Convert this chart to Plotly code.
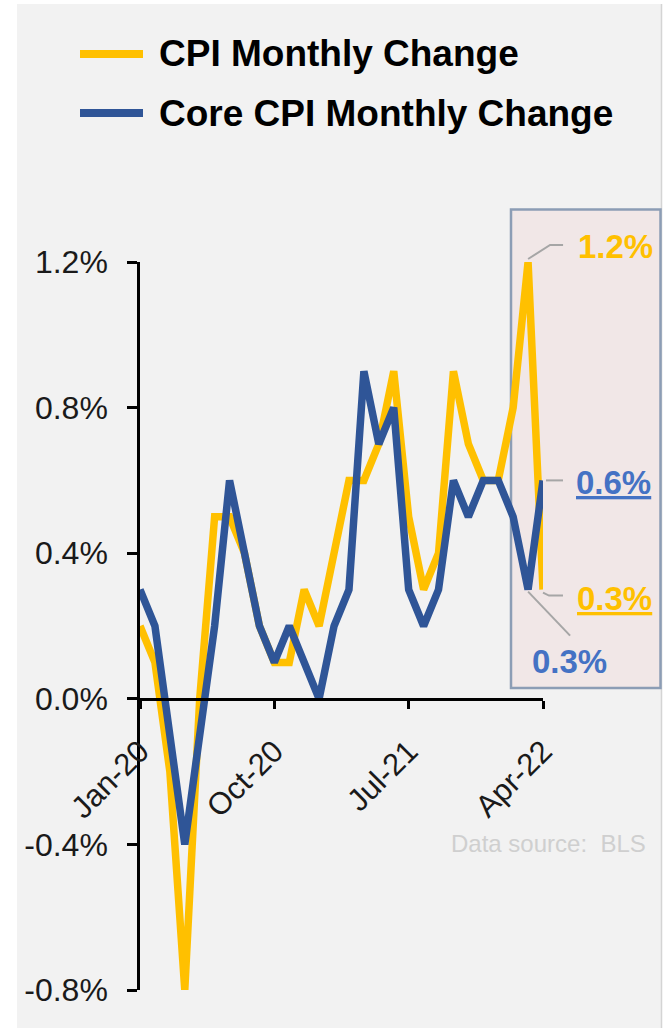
import plotly.graph_objects as go

# ---------------- data ----------------
months = ["Jan-20", "Feb-20", "Mar-20", "Apr-20", "May-20", "Jun-20", "Jul-20",
          "Aug-20", "Sep-20", "Oct-20", "Nov-20", "Dec-20", "Jan-21", "Feb-21",
          "Mar-21", "Apr-21", "May-21", "Jun-21", "Jul-21", "Aug-21", "Sep-21",
          "Oct-21", "Nov-21", "Dec-21", "Jan-22", "Feb-22", "Mar-22", "Apr-22"]
cpi_change = [0.2, 0.1, -0.2, -0.8, 0.0, 0.5, 0.5, 0.4, 0.2, 0.1, 0.1, 0.3, 0.2, 0.4,
              0.6, 0.6, 0.7, 0.9, 0.5, 0.3, 0.4, 0.9, 0.7, 0.6, 0.6, 0.8, 1.2, 0.3]
core_change = [0.3, 0.2, -0.1, -0.4, -0.1, 0.2, 0.6, 0.4, 0.2, 0.1, 0.2, 0.1, 0.0, 0.2,
               0.3, 0.9, 0.7, 0.8, 0.3, 0.2, 0.3, 0.6, 0.5, 0.6, 0.6, 0.5, 0.3, 0.6]
x_tick_labels = ["Jan-20", "Oct-20", "Jul-21", "Apr-22"]
y_tick_values = [-0.8, -0.4, 0.0, 0.4, 0.8, 1.2]
y_tick_labels = ["-0.8%", "-0.4%", "0.0%", "0.4%", "0.8%", "1.2%"]
series_names = ["CPI Monthly Change", "Core CPI Monthly Change"]
source_text = "Data source:\u00a0 BLS"

# ---------------- style ----------------
ORANGE = "#FFC000"
BLUE = "#2F5597"
BLUE_LABEL = "#4472C4"
GREY_LEAD = "#A6A6A6"
FONT = "Liberation Sans, Arial, sans-serif"

W, H = 664, 1028
ML, MR, MT, MB = 140, 121, 262, 38
PW, PH = W - ML - MR, H - MT - MB
YMIN, YMAX = -0.8, 1.2
N = len(months) - 1


def px(x):
    return (x - ML) / PW


def py(y):
    return (H - MB - y) / PH


def xpix(i):  # pixel x of category index on the x scale
    return ML + i * PW / N


def ypix(v):  # pixel y of value on the y scale
    return MT + (YMAX - v) / (YMAX - YMIN) * PH


fig = go.Figure()
fig.add_trace(go.Scatter(x=months, y=cpi_change, mode="lines", name=series_names[0],
                         line=dict(color=ORANGE, width=7.5), hoverinfo="x+y"))
fig.add_trace(go.Scatter(x=months, y=core_change, mode="lines", name=series_names[1],
                         line=dict(color=BLUE, width=7.5), hoverinfo="x+y"))

shapes = []
# page background panel
shapes.append(dict(type="rect", xref="paper", yref="paper", x0=px(17), x1=px(661),
                   y0=py(1032), y1=py(4), fillcolor="#F2F2F2", line=dict(width=0), layer="below"))
shapes.append(dict(type="line", xref="paper", yref="paper", x0=px(661.5), x1=px(661.5),
                   y0=py(1032), y1=py(4), line=dict(color="#D4D4D4", width=1.5), layer="below"))
# highlight box
shapes.append(dict(type="rect", xref="paper", yref="paper", x0=px(511), x1=px(660.5),
                   y0=py(688), y1=py(209.5), fillcolor="#F1E7E7",
                   line=dict(color="#8C9DB5", width=2.5), layer="below"))
# legend lines
for col, yy in [(ORANGE, 54), (BLUE, 113)]:
    shapes.append(dict(type="line", xref="paper", yref="paper", x0=px(80), x1=px(143),
                       y0=py(yy), y1=py(yy), line=dict(color=col, width=8)))


def leader(idx, yval, pts):
    x0, y0 = xpix(idx), ypix(yval)
    path = "M" + " L".join("%.4f,%.4f" % (px(x0 + dx), py(y0 + dy)) for dx, dy in pts)
    return dict(type="path", xref="paper", yref="paper", path=path,
                line=dict(color=GREY_LEAD, width=2))


shapes.append(leader(N - 1, cpi_change[N - 1], [(0, -3), (22, -17), (35, -17)]))
shapes.append(leader(N, core_change[N], [(3, 0), (20, 0)]))
shapes.append(leader(N, cpi_change[N], [(0, 3), (6, 6), (20, 6)]))
shapes.append(leader(N - 1, core_change[N - 1], [(0, 2), (42, 46)]))

annotations = []
# legend text
for name, yy in [(series_names[0], 54), (series_names[1], 113)]:
    annotations.append(dict(xref="paper", yref="paper", x=px(157), y=py(yy),
                            xanchor="left", yanchor="middle", showarrow=False,
                            text="<b>%s</b>" % name,
                            font=dict(family=FONT, size=37, color="#000000")))


def vlabel(idx, yval, color, xs, ys, xanchor="left", underline=False):
    t = "<b>%.1f%%</b>" % yval
    if underline:
        t = "<u>%s</u>" % t
    return dict(x=months[idx], y=yval, xref="x", yref="y", text=t, showarrow=False,
                xanchor=xanchor, yanchor="middle", xshift=xs, yshift=ys,
                font=dict(family=FONT, size=33, color=color))


annotations.append(vlabel(N - 1, cpi_change[N - 1], ORANGE, 48, 16))
annotations.append(vlabel(N, core_change[N], BLUE_LABEL, 31, -2, underline=True))
annotations.append(vlabel(N, cpi_change[N], ORANGE, 32, -9, underline=True))
annotations.append(vlabel(N - 1, core_change[N - 1], BLUE_LABEL, 41, -72, xanchor="center"))
# data source
annotations.append(dict(xref="paper", yref="paper", x=px(648), y=py(843), xanchor="right",
                        yanchor="middle", showarrow=False, text=source_text,
                        font=dict(family=FONT, size=24, color="#CFCFCF")))

fig.update_layout(
    width=W, height=H,
    margin=dict(l=ML, r=MR, t=MT, b=MB, pad=0),
    paper_bgcolor="#FFFFFF", plot_bgcolor="rgba(0,0,0,0)",
    showlegend=False,
    shapes=shapes, annotations=annotations,
    font=dict(family=FONT, size=32, color="#1A1A1A"),
    xaxis=dict(type="category", range=[0, N], anchor="free",
               position=(0 - YMIN) / (YMAX - YMIN),
               showline=True, linecolor="#000000", linewidth=2.5,
               ticks="outside", ticklen=8, tickwidth=2.5, tickcolor="#000000",
               tickmode="array", tickvals=x_tick_labels, ticktext=x_tick_labels,
               tickangle=-45, tickfont=dict(size=31, color="#1A1A1A"),
               ticklabelstandoff=12,
               showgrid=False, zeroline=False, fixedrange=True),
    yaxis=dict(range=[YMIN, YMAX], showline=True, linecolor="#000000", linewidth=2.5,
               ticks="outside", ticklen=10, tickwidth=2.5, tickcolor="#000000",
               tickmode="array", tickvals=y_tick_values, ticktext=y_tick_labels,
               tickfont=dict(size=32, color="#1A1A1A"), ticklabelstandoff=13,
               showgrid=False, zeroline=False, fixedrange=True),
)

fig.write_html("out.html", config={"displayModeBar": False},
               post_script="document.body.style.margin='0';document.body.style.overflow='hidden';")
